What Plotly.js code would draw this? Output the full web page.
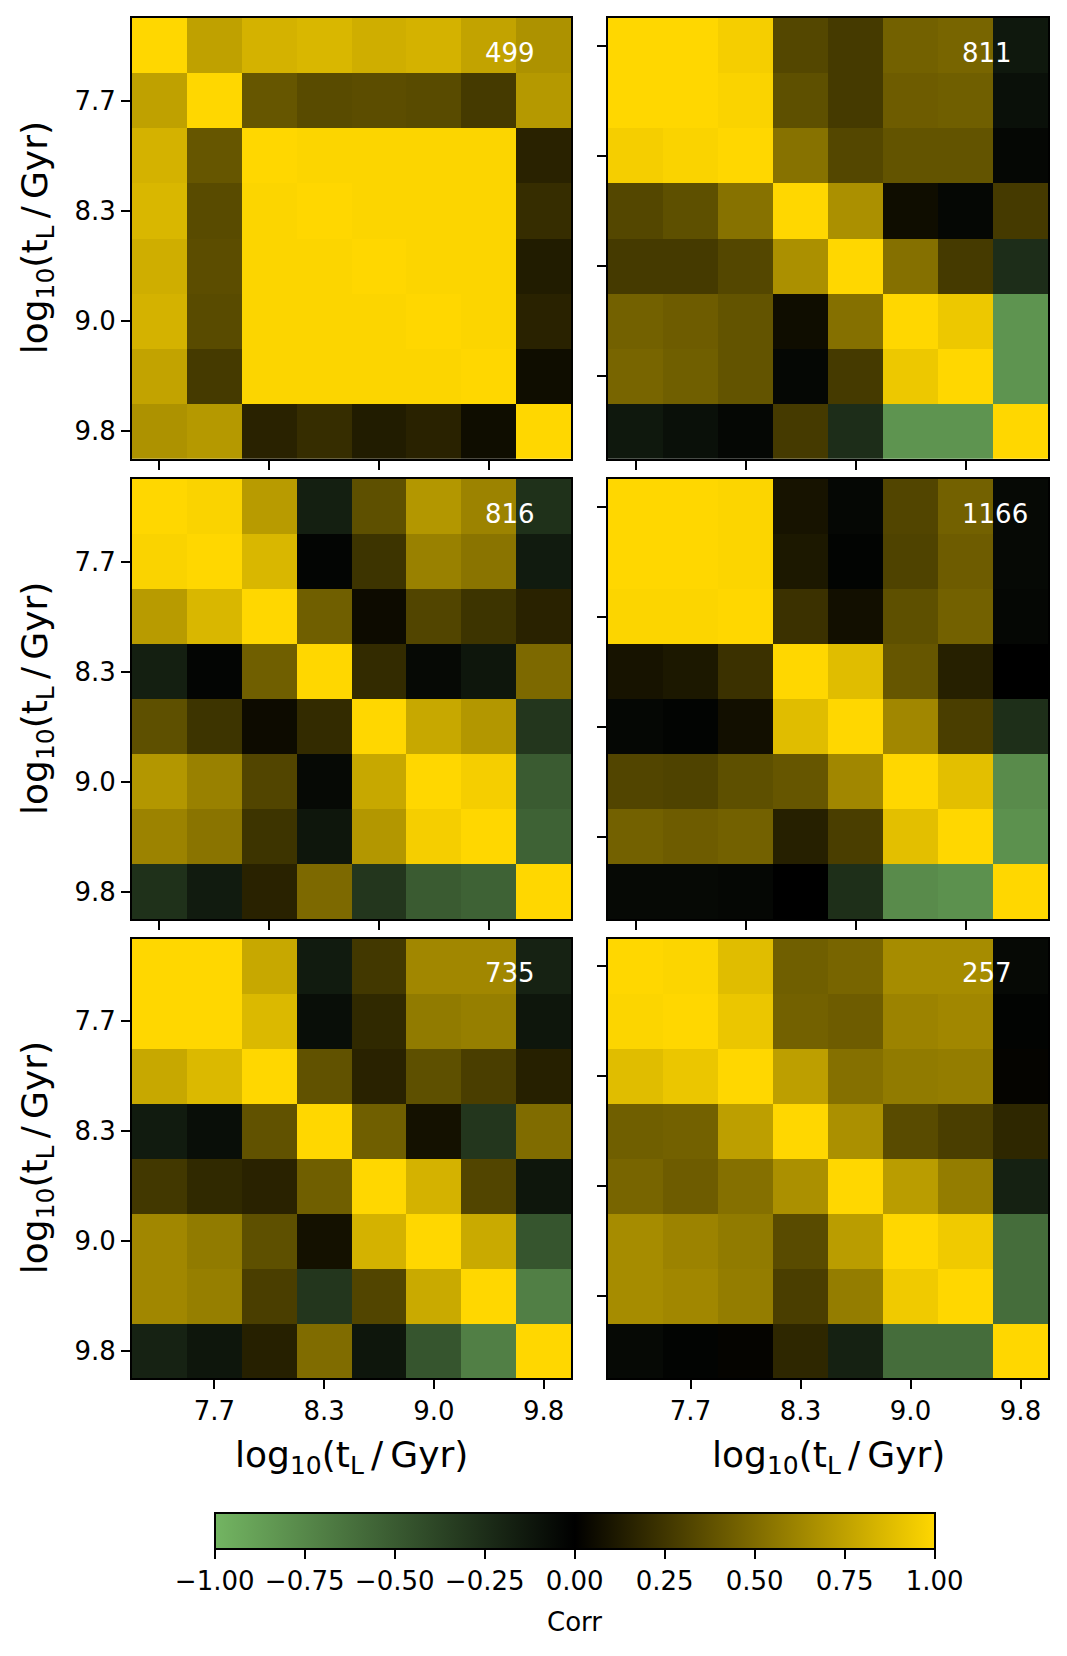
<!DOCTYPE html>
<html>
<head>
<meta charset="utf-8">
<script src="https://cdn.plot.ly/plotly-3.0.1.min.js"></script>
<style>
html,body{margin:0;padding:0;background:#ffffff;}
#chart{width:1067px;height:1656px;}
</style>
</head>
<body>
<div id="chart"></div>
<script>
// ---- data ----
const bins = [0, 1, 2, 3, 4, 5, 6, 7];
const tickPosLabeled = [1, 3, 5, 7];
const tickText = ['7.7', '8.3', '9.0', '9.8'];
const tickPosPlain = [0, 2, 4, 6];
const panelLabels = ['499', '811', '816', '1166', '735', '257'];

const corr499 = [
  [1.00, 0.75, 0.83, 0.85, 0.81, 0.83, 0.76, 0.68],
  [0.75, 1.00, 0.40, 0.35, 0.36, 0.35, 0.27, 0.71],
  [0.83, 0.40, 1.00, 0.99, 0.99, 0.99, 0.99, 0.16],
  [0.85, 0.35, 0.99, 1.00, 0.99, 0.99, 0.99, 0.21],
  [0.81, 0.36, 0.99, 0.99, 1.00, 0.99, 0.99, 0.13],
  [0.83, 0.35, 0.99, 0.99, 0.99, 1.00, 0.99, 0.16],
  [0.76, 0.27, 0.99, 0.99, 0.99, 0.99, 1.00, 0.06],
  [0.68, 0.71, 0.16, 0.21, 0.13, 0.16, 0.06, 1.00]
];
const corr811 = [
  [1.00, 1.00, 0.96, 0.33, 0.27, 0.45, 0.47, -0.13],
  [1.00, 1.00, 0.98, 0.37, 0.27, 0.43, 0.44, -0.09],
  [0.96, 0.98, 1.00, 0.53, 0.33, 0.39, 0.39, -0.04],
  [0.33, 0.37, 0.53, 1.00, 0.67, 0.06, -0.04, 0.27],
  [0.27, 0.27, 0.33, 0.67, 1.00, 0.52, 0.27, -0.25],
  [0.45, 0.43, 0.39, 0.06, 0.52, 1.00, 0.93, -0.82],
  [0.47, 0.44, 0.39, -0.04, 0.27, 0.93, 1.00, -0.82],
  [-0.13, -0.09, -0.04, 0.27, -0.25, -0.82, -0.82, 1.00]
];
const corr816 = [
  [1.00, 0.98, 0.72, -0.17, 0.37, 0.70, 0.61, -0.27],
  [0.98, 1.00, 0.85, -0.03, 0.24, 0.60, 0.54, -0.15],
  [0.72, 0.85, 1.00, 0.44, 0.05, 0.32, 0.24, 0.16],
  [-0.17, -0.03, 0.44, 1.00, 0.20, -0.05, -0.12, 0.49],
  [0.37, 0.24, 0.05, 0.20, 1.00, 0.78, 0.70, -0.30],
  [0.70, 0.60, 0.32, -0.05, 0.78, 1.00, 0.96, -0.50],
  [0.61, 0.54, 0.24, -0.12, 0.70, 0.96, 1.00, -0.54],
  [-0.27, -0.15, 0.16, 0.49, -0.30, -0.50, -0.54, 1.00]
];
const corr1166 = [
  [1.00, 1.00, 0.99, 0.09, -0.04, 0.32, 0.45, -0.05],
  [1.00, 1.00, 0.99, 0.11, -0.02, 0.31, 0.43, -0.05],
  [0.99, 0.99, 1.00, 0.23, 0.07, 0.37, 0.45, -0.04],
  [0.09, 0.11, 0.23, 1.00, 0.88, 0.40, 0.15, 0.00],
  [-0.04, -0.02, 0.07, 0.88, 1.00, 0.63, 0.29, -0.26],
  [0.32, 0.31, 0.37, 0.40, 0.63, 1.00, 0.89, -0.77],
  [0.45, 0.43, 0.45, 0.15, 0.29, 0.89, 1.00, -0.80],
  [-0.05, -0.05, -0.04, 0.00, -0.26, -0.77, -0.80, 1.00]
];
const corr735 = [
  [1.00, 1.00, 0.78, -0.15, 0.26, 0.63, 0.63, -0.19],
  [1.00, 1.00, 0.86, -0.08, 0.19, 0.57, 0.59, -0.12],
  [0.78, 0.86, 1.00, 0.38, 0.16, 0.37, 0.29, 0.15],
  [-0.15, -0.08, 0.38, 1.00, 0.44, 0.08, -0.30, 0.50],
  [0.26, 0.19, 0.16, 0.44, 1.00, 0.83, 0.32, -0.12],
  [0.63, 0.57, 0.37, 0.08, 0.83, 1.00, 0.79, -0.47],
  [0.63, 0.59, 0.29, -0.30, 0.32, 0.79, 1.00, -0.70],
  [-0.19, -0.12, 0.15, 0.50, -0.12, -0.47, -0.70, 1.00]
];
const corr257 = [
  [1.00, 0.99, 0.88, 0.44, 0.47, 0.65, 0.65, -0.05],
  [0.99, 1.00, 0.92, 0.45, 0.43, 0.61, 0.63, -0.02],
  [0.88, 0.92, 1.00, 0.74, 0.52, 0.57, 0.58, 0.02],
  [0.44, 0.45, 0.74, 1.00, 0.67, 0.35, 0.29, 0.18],
  [0.47, 0.43, 0.52, 0.67, 1.00, 0.73, 0.58, -0.18],
  [0.65, 0.61, 0.57, 0.35, 0.73, 1.00, 0.94, -0.60],
  [0.65, 0.63, 0.58, 0.29, 0.58, 0.94, 1.00, -0.60],
  [-0.05, -0.02, 0.02, 0.18, -0.18, -0.60, -0.60, 1.00]
];
const cbTickVals = [-1, -0.75, -0.5, -0.25, 0, 0.25, 0.5, 0.75, 1];
const cbTickText = ['\u22121.00', '\u22120.75', '\u22120.50', '\u22120.25', '0.00', '0.25', '0.50', '0.75', '1.00'];
const cbTitle = 'Corr';

// ---- layout geometry ----
const W = 1067, H = 1656;
const FONT = 'DejaVu Sans, Liberation Sans, sans-serif';
const colX = [[132, 571], [608, 1048]];
const rowY = [[18, 458.7], [479, 919], [938.5, 1378]];
const matrices = [corr499, corr811, corr816, corr1166, corr735, corr257];

const data = [];
const layout = {
  width: W, height: H,
  margin: {l: 0, r: 0, t: 0, b: 0},
  paper_bgcolor: '#ffffff', plot_bgcolor: '#ffffff',
  font: {family: FONT, size: 26, color: '#000000'},
  showlegend: false,
  coloraxis: {
    cmin: -1, cmax: 1,
    colorscale: [[0, 'rgb(115,181,98)'], [0.5, 'rgb(0,0,0)'], [1, 'rgb(255,215,0)']],
    colorbar: {
      orientation: 'h',
      x: 574.7 / W, xanchor: 'center',
      y: 1 - 1512.7 / H, yanchor: 'top',
      len: 720 / W, lenmode: 'fraction',
      thickness: 36, thicknessmode: 'pixels',
      xpad: 0, ypad: 0,
      outlinewidth: 2, outlinecolor: '#000000',
      ticks: 'outside', ticklen: 9, tickwidth: 2, tickcolor: '#000000',
      tickvals: cbTickVals, ticktext: cbTickText,
      tickfont: {family: FONT, size: 26, color: '#000000'}
    }
  },
  annotations: []
};

matrices.forEach((z, i) => {
  const r = Math.floor(i / 2), c = i % 2;
  const n = i + 1;
  const bottom = r === 2, left = c === 0;
  data.push({
    type: 'heatmap', z: z, x: bins, y: bins,
    coloraxis: 'coloraxis',
    xaxis: 'x' + n, yaxis: 'y' + n,
    hoverinfo: 'skip'
  });
  const common = {
    showline: true, mirror: true, linecolor: '#000000', linewidth: 2,
    ticks: 'outside', ticklen: 9, tickwidth: 2, tickcolor: '#000000',
    showgrid: false, zeroline: false, fixedrange: true,
    tickfont: {family: FONT, size: 26, color: '#000000'}
  };
  const xa = Object.assign({}, common, {
    domain: [colX[c][0] / W, colX[c][1] / W],
    anchor: 'y' + n,
    range: [-0.5, 7.5],
    tickmode: 'array',
    tickvals: bottom ? tickPosLabeled : tickPosPlain,
    showticklabels: bottom
  });
  if (bottom) xa.ticktext = tickText;
  const ya = Object.assign({}, common, {
    domain: [1 - rowY[r][1] / H, 1 - rowY[r][0] / H],
    anchor: 'x' + n,
    range: [7.5, -0.5],
    tickmode: 'array',
    tickvals: left ? tickPosLabeled : tickPosPlain,
    showticklabels: left
  });
  if (left) ya.ticktext = tickText;
  layout['xaxis' + n] = xa;
  layout['yaxis' + n] = ya;
  layout.annotations.push({
    text: panelLabels[i],
    xref: 'x' + n + ' domain', yref: 'y' + n + ' domain',
    x: 0.8, y: 0.9206, xanchor: 'left', yanchor: 'middle',
    showarrow: false,
    font: {family: FONT, size: 26, color: '#ffffff'}
  });
});

const SUB = '<span style="font-size:25px;baseline-shift:-7px">';
const axisTitle = 'log' + SUB + '10</span>(t' + SUB + 'L</span>\u2009/\u2009Gyr)';
rowY.forEach((ry) => {
  layout.annotations.push({
    text: axisTitle, textangle: -90,
    xref: 'paper', yref: 'paper',
    x: 37 / W, y: 1 - ((ry[0] + ry[1]) / 2) / H,
    xanchor: 'center', yanchor: 'middle', showarrow: false,
    font: {family: FONT, size: 36, color: '#000000'}
  });
});
colX.forEach((cx) => {
  layout.annotations.push({
    text: axisTitle,
    xref: 'paper', yref: 'paper',
    x: ((cx[0] + cx[1]) / 2) / W, y: 1 - 1457 / H,
    xanchor: 'center', yanchor: 'middle', showarrow: false,
    font: {family: FONT, size: 36, color: '#000000'}
  });
});
// colour bar title
layout.annotations.push({
  text: cbTitle,
  xref: 'paper', yref: 'paper',
  x: 574.7 / W, y: 1 - 1622 / H,
  xanchor: 'center', yanchor: 'middle', showarrow: false,
  font: {family: FONT, size: 26, color: '#000000'}
});

Plotly.newPlot('chart', data, layout, {displayModeBar: false, responsive: false});
</script>
</body>
</html>
